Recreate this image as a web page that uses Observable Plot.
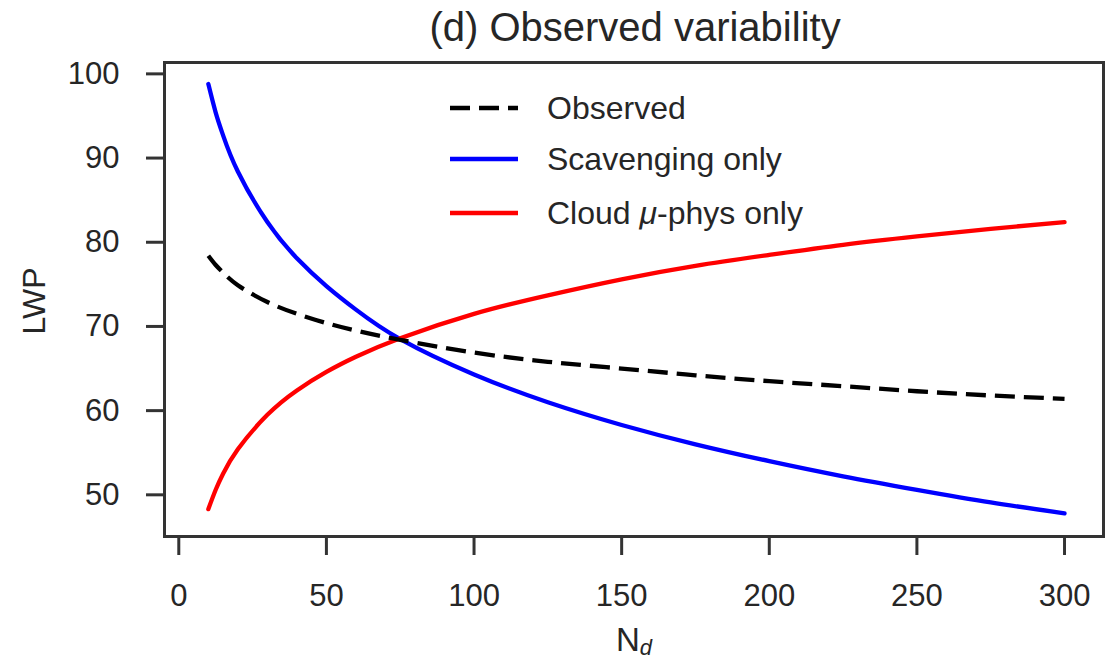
<!DOCTYPE html>
<html><head><meta charset="utf-8">
<script src="https://cdn.jsdelivr.net/npm/d3@7"></script>
<script src="https://cdn.jsdelivr.net/npm/@observablehq/plot@0.6"></script>
<style>
body{margin:0;background:#fff;}
#chart{width:1105px;height:663px;}
</style></head><body><div id="chart"></div>
<script>
// Droplet number concentration (x)
const nd = [10, 12.5, 15, 20, 30, 40, 50, 60, 75, 100, 125, 150, 175, 200, 225, 250, 275, 300];
// LWP series
const observed   = [78.4, 77.3, 76.4, 74.9, 72.9, 71.5, 70.4, 69.5, 68.4, 66.9, 65.8, 65.0, 64.2, 63.5, 62.9, 62.3, 61.8, 61.4];
const scavenging = [98.8, 95.4, 92.7, 88.4, 82.4, 78.1, 74.8, 72.0, 68.5, 64.3, 61.0, 58.3, 56.0, 54.0, 52.2, 50.6, 49.1, 47.8];
const cloudPhys  = [48.3, 50.6, 52.5, 55.4, 59.5, 62.4, 64.6, 66.4, 68.6, 71.5, 73.7, 75.6, 77.2, 78.5, 79.7, 80.7, 81.6, 82.4];
const seriesNames = ["Observed", "Scavenging only", "Cloud μ-phys only"];
const seriesColors = ["#000000", "#0000ff", "#ff0000"];
const xTicks = [0, 50, 100, 150, 200, 250, 300];
const yTicks = [50, 60, 70, 80, 90, 100];
const titleText = "(d) Observed variability";
const yLabel = "LWP";

const seriesValues = [observed, scavenging, cloudPhys];
const rows = [];
seriesValues.forEach((vals, s) => vals.forEach((v, i) => rows.push({series: seriesNames[s], nd: nd[i], lwp: v})));

const textColor = "#262626";
const axisColor = "#333333";
const font = "'Liberation Sans', Arial, sans-serif";

const W = 1105, H = 663, mL = 164, mR = 2, mT = 62, mB = 127;

const svg = Plot.plot({
  width: W, height: H,
  marginLeft: mL, marginRight: mR, marginTop: mT, marginBottom: mB,
  style: {fontFamily: font, color: textColor, background: "#fff", overflow: "visible"},
  x: {domain: [-4.84, 313.2]},
  y: {domain: [45.05, 101.35]},
  marks: [
    Plot.line(rows.filter(d => d.series === seriesNames[1]), {x: "nd", y: "lwp", stroke: seriesColors[1], strokeWidth: 4.3, curve: "natural", strokeLinecap: "round"}),
    Plot.line(rows.filter(d => d.series === seriesNames[2]), {x: "nd", y: "lwp", stroke: seriesColors[2], strokeWidth: 4.3, curve: "natural", strokeLinecap: "round"}),
    Plot.line(rows.filter(d => d.series === seriesNames[0]), {x: "nd", y: "lwp", stroke: seriesColors[0], strokeWidth: 4.3, curve: "natural", strokeDasharray: "20,9", strokeLinecap: "butt"}),
    Plot.frame({stroke: axisColor, strokeWidth: 3}),
    Plot.axisX(xTicks, {tickSize: 19, tickPadding: 28, fontSize: 31, stroke: axisColor, strokeWidth: 3, fill: textColor, label: null}),
    Plot.axisY(yTicks, {tickSize: 18, tickPadding: 27, fontSize: 31, stroke: axisColor, strokeWidth: 3, fill: textColor, label: null})
  ]
});
document.getElementById("chart").appendChild(svg);

const s = d3.select(svg);
// Title
s.append("text").attr("x", 635).attr("y", 41).attr("text-anchor", "middle")
  .attr("font-family", font).attr("font-size", 40).attr("fill", textColor).text(titleText);
// Y label
s.append("text").attr("transform", "translate(45,301) rotate(-90)").attr("text-anchor", "middle")
  .attr("font-family", font).attr("font-size", 32).attr("fill", textColor).text(yLabel);
// X label N_d
const xl = s.append("text").attr("x", 634).attr("y", 651).attr("text-anchor", "middle")
  .attr("font-family", font).attr("font-size", 33).attr("fill", textColor);
xl.append("tspan").text("N");
xl.append("tspan").attr("font-size", 22).attr("font-style", "italic").attr("dy", 4).text("d");

// Legend
const lg = s.append("g");
const legY = [108, 159, 213];
seriesNames.forEach((name, i) => {
  lg.append("line").attr("x1", 450).attr("x2", 518).attr("y1", legY[i]).attr("y2", legY[i])
    .attr("stroke", seriesColors[i]).attr("stroke-width", 4.3)
    .attr("stroke-dasharray", i === 0 ? "20,9" : null);
  const t = lg.append("text").attr("x", 547).attr("y", legY[i]).attr("dy", "0.35em")
    .attr("text-anchor", "start")
    .attr("font-family", font).attr("font-size", 32).attr("fill", textColor);
  if (name.includes("μ")) {
    const parts = name.split("μ");
    t.append("tspan").text(parts[0]);
    t.append("tspan").attr("font-style", "italic").text("μ");
    t.append("tspan").text(parts[1]);
  } else {
    t.text(name);
  }
});
</script>
</body></html>
